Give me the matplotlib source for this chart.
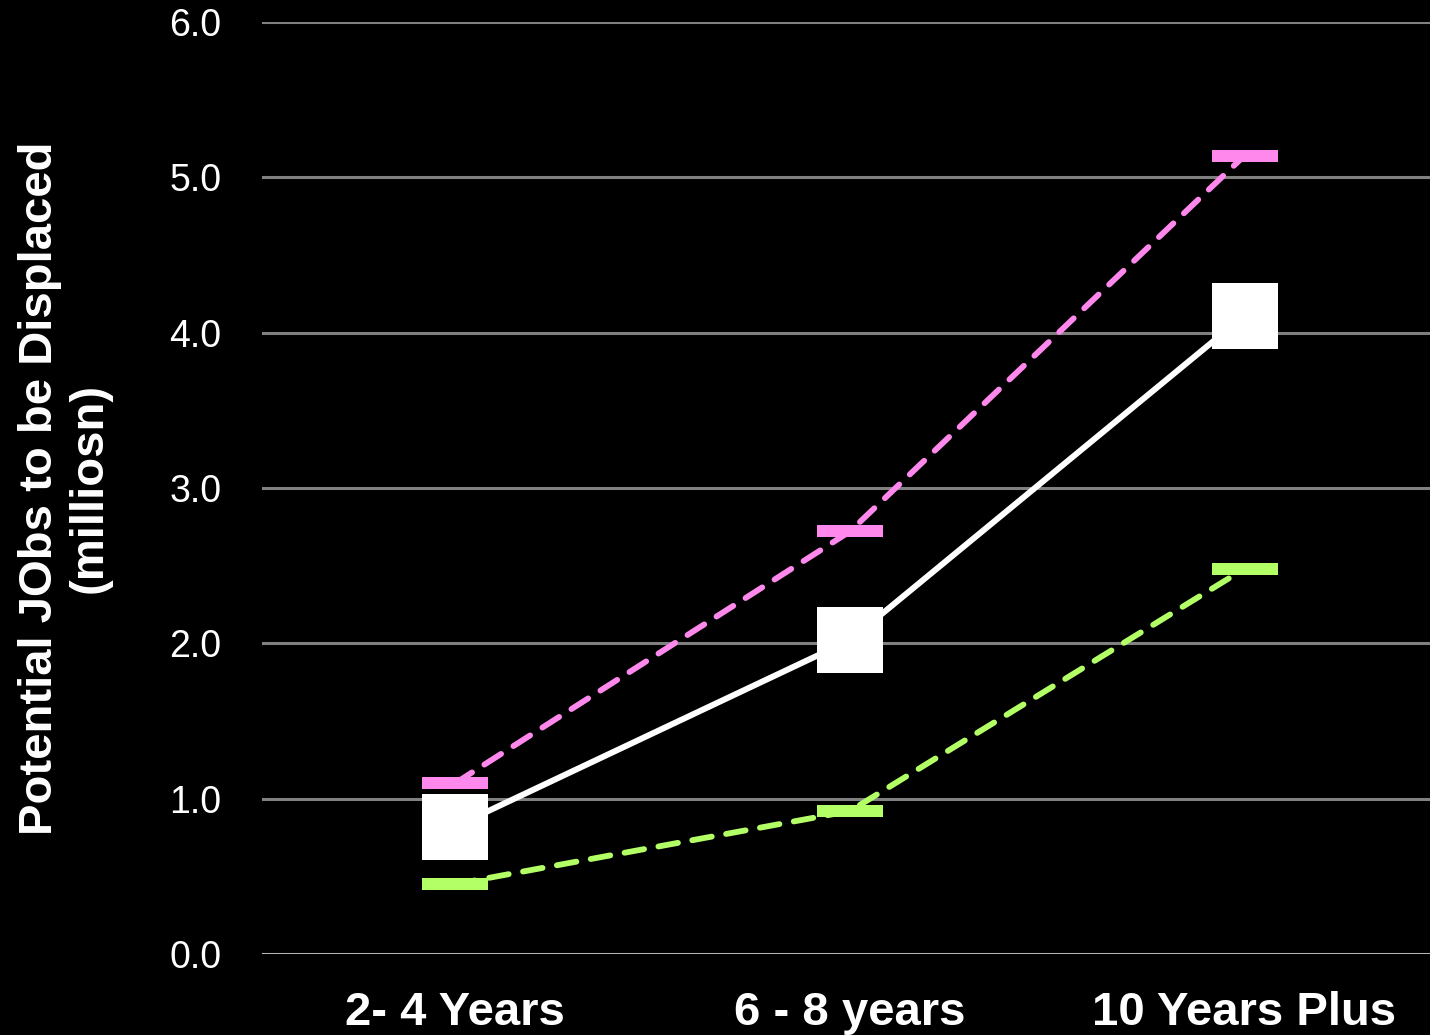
import numpy as np
import matplotlib.pyplot as plt
from matplotlib.path import Path

plt.rcParams['font.family'] = ['Liberation Sans', 'DejaVu Sans']

# Displaced jobs estimate (millions) by time horizon
periods = ['2- 4 Years', '6 - 8 years', '10 Years Plus']
high = [1.10, 2.72, 5.14]
mid = [0.82, 2.02, 4.11]
low = [0.45, 0.92, 2.48]
yticks = [0.0, 1.0, 2.0, 3.0, 4.0, 5.0, 6.0]

# flat bar marker for the high / low estimates
bar = Path([(-1, -0.19), (1, -0.19), (1, 0.19), (-1, 0.19), (-1, -0.19)],
           [Path.MOVETO, Path.LINETO, Path.LINETO, Path.LINETO, Path.CLOSEPOLY])

fig = plt.figure(figsize=(14.3, 10.35), dpi=100, facecolor='black')
ax = fig.add_axes([262 / 1430, 0.0783, 1 - 262 / 1430, 0.9005])
ax.set_facecolor('black')

x = np.arange(len(periods))

for yv in yticks[1:]:
    ax.axhline(yv, color='#808080', lw=2.2, zorder=1)
ax.axhline(0, color='#b5b5b5', lw=2.2, zorder=1)

ax.plot(x, high, color='#ff88ec', lw=4.2, ls=(0, (3.4, 2.5)),
        dash_capstyle='round', marker=bar, ms=48, mew=0, zorder=3)
ax.plot(x, low, color='#b3ff66', lw=4.2, ls=(0, (3.4, 2.5)),
        dash_capstyle='round', marker=bar, ms=48, mew=0, zorder=3)
ax.plot(x, mid, color='white', lw=4.3, marker='s', ms=47, mew=0, zorder=4)

ax.set_xlim(-0.49, 2.47)
ax.set_ylim(0, 6)
ax.set_xticks(x)
ax.set_xticklabels(periods, fontsize=34, fontweight='bold', color='white')
ax.set_yticks(yticks)
ax.set_yticklabels([f'{v:.1f}' for v in yticks], fontsize=27, color='white')
ax.tick_params(length=0)
ax.tick_params(axis='y', pad=29)
ax.tick_params(axis='x', pad=27)
for s in ax.spines.values():
    s.set_visible(False)

ax.set_ylabel('Potential JObs to be Displaced\n(milliosn)', fontsize=34,
              fontweight='bold', color='white', labelpad=42, linespacing=1.15)

fig.savefig('out.png', dpi=100, facecolor='black')
